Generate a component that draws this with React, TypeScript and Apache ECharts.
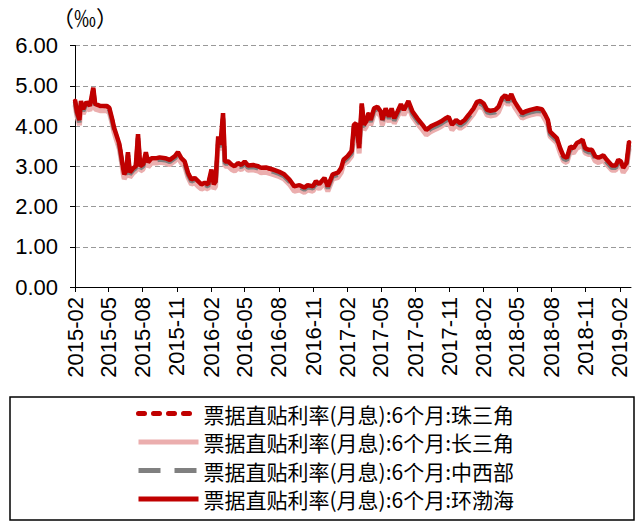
import React, { useEffect, useRef } from 'react';
import * as echarts from 'echarts';

// Observation dates shared by all four regional series
const dates = [
  '2015-02-01', '2015-02-06', '2015-02-13', '2015-02-17', '2015-02-23', '2015-03-04', '2015-03-13', '2015-03-22', '2015-03-27', '2015-04-09',
  '2015-04-27', '2015-05-04', '2015-05-11', '2015-05-17', '2015-05-24', '2015-05-31', '2015-06-06', '2015-06-10', '2015-06-13', '2015-06-19',
  '2015-06-23', '2015-06-28', '2015-07-07', '2015-07-14', '2015-07-20', '2015-07-26', '2015-08-03', '2015-08-10', '2015-08-16', '2015-08-25',
  '2015-09-08', '2015-09-16', '2015-10-01', '2015-10-13', '2015-10-27', '2015-11-04', '2015-11-13', '2015-11-22', '2015-12-01', '2015-12-10',
  '2015-12-19', '2015-12-28', '2016-01-06', '2016-01-15', '2016-01-24', '2016-02-02', '2016-02-08', '2016-02-13', '2016-02-20', '2016-02-26',
  '2016-03-04', '2016-03-09', '2016-03-18', '2016-03-27', '2016-04-04', '2016-04-13', '2016-04-22', '2016-05-01', '2016-05-10', '2016-05-24',
  '2016-06-06', '2016-06-14', '2016-06-27', '2016-07-15', '2016-08-02', '2016-08-15', '2016-08-29', '2016-09-11', '2016-09-25', '2016-10-08',
  '2016-10-17', '2016-10-31', '2016-11-08', '2016-11-17', '2016-12-01', '2016-12-10', '2016-12-23', '2017-01-06', '2017-01-15', '2017-01-21',
  '2017-02-01', '2017-02-12', '2017-02-18', '2017-02-24', '2017-03-04', '2017-03-11', '2017-03-17', '2017-03-23', '2017-03-29', '2017-04-04',
  '2017-04-13', '2017-04-22', '2017-05-01', '2017-05-05', '2017-05-14', '2017-05-23', '2017-05-30', '2017-06-06', '2017-06-15', '2017-06-24',
  '2017-07-02', '2017-07-14', '2017-07-25', '2017-08-07', '2017-08-21', '2017-08-31', '2017-09-12', '2017-09-21', '2017-09-30', '2017-10-09',
  '2017-10-20', '2017-10-30', '2017-11-08', '2017-11-19', '2017-11-30', '2017-12-12', '2017-12-23', '2018-01-05', '2018-01-14', '2018-01-23',
  '2018-02-01', '2018-02-10', '2018-02-19', '2018-03-04', '2018-03-13', '2018-03-22', '2018-03-31', '2018-04-07', '2018-04-16', '2018-04-25',
  '2018-05-06', '2018-05-15', '2018-05-24', '2018-06-06', '2018-06-24', '2018-07-07', '2018-07-16', '2018-07-23', '2018-07-29', '2018-08-07',
  '2018-08-16', '2018-08-25', '2018-09-03', '2018-09-12', '2018-09-21', '2018-09-30', '2018-10-09', '2018-10-18', '2018-10-24', '2018-10-31',
  '2018-11-09', '2018-11-18', '2018-11-27', '2018-12-06', '2018-12-19', '2018-12-28', '2019-01-11', '2019-01-21', '2019-01-28', '2019-02-04',
  '2019-02-10', '2019-02-19', '2019-02-26',
];

// 珠三角
const zhuSanJiao = [
  4.63, 4.34, 4.13, 4.60, 4.40, 4.58, 4.48, 4.92, 4.53, 4.48,
  4.48, 4.43, 4.18, 3.93, 3.73, 3.53, 3.18, 2.93, 2.78, 2.88,
  3.32, 2.83, 2.93, 2.98, 3.76, 2.98, 3.03, 3.32, 3.08, 3.18,
  3.18, 3.20, 3.18, 3.14, 3.23, 3.32, 3.18, 3.10, 2.82, 2.65,
  2.69, 2.61, 2.53, 2.57, 2.53, 2.89, 2.53, 2.60, 3.70, 3.50,
  4.27, 3.10, 3.10, 3.02, 2.98, 3.06, 3.01, 3.10, 3.00, 3.01,
  2.98, 2.94, 2.95, 2.90, 2.84, 2.78, 2.65, 2.48, 2.51, 2.45,
  2.51, 2.48, 2.61, 2.54, 2.69, 2.48, 2.78, 2.82, 2.94, 3.14,
  3.23, 3.36, 4.00, 4.05, 3.43, 4.53, 4.01, 4.09, 4.30, 4.13,
  4.42, 4.46, 4.34, 4.13, 4.42, 4.21, 4.42, 4.17, 4.34, 4.52,
  4.38, 4.60, 4.34, 4.17, 4.01, 3.88, 3.97, 4.01, 4.05, 4.09,
  4.16, 4.21, 4.01, 4.13, 4.05, 4.13, 4.26, 4.42, 4.58, 4.60,
  4.54, 4.38, 4.36, 4.38, 4.46, 4.67, 4.75, 4.63, 4.77, 4.58,
  4.42, 4.30, 4.34, 4.38, 4.42, 4.40, 4.26, 4.13, 3.84, 3.76,
  3.68, 3.43, 3.23, 3.19, 3.47, 3.43, 3.56, 3.60, 3.64, 3.43,
  3.39, 3.39, 3.23, 3.19, 3.25, 3.14, 3.00, 3.00, 3.14, 3.10,
  2.94, 3.06, 3.60,
];

// 长三角
const changSanJiao = [
  4.52, 4.25, 4.02, 4.50, 4.30, 4.48, 4.38, 4.80, 4.42, 4.38,
  4.38, 4.33, 4.08, 3.83, 3.62, 3.42, 3.08, 2.82, 2.68, 2.78,
  3.20, 2.72, 2.83, 2.88, 3.62, 2.88, 2.93, 3.22, 2.98, 3.08,
  3.08, 3.10, 3.08, 3.04, 3.13, 3.22, 3.08, 3.00, 2.72, 2.55,
  2.59, 2.50, 2.43, 2.47, 2.43, 2.78, 2.43, 2.50, 3.55, 3.40,
  4.10, 3.00, 3.00, 2.92, 2.88, 2.96, 2.91, 3.00, 2.90, 2.91,
  2.88, 2.84, 2.85, 2.80, 2.74, 2.68, 2.55, 2.38, 2.41, 2.35,
  2.41, 2.38, 2.50, 2.44, 2.58, 2.38, 2.68, 2.72, 2.84, 3.04,
  3.12, 3.25, 3.88, 3.93, 3.32, 4.40, 3.90, 3.98, 4.18, 4.02,
  4.30, 4.34, 4.23, 4.02, 4.30, 4.10, 4.30, 4.06, 4.23, 4.40,
  4.27, 4.48, 4.23, 4.06, 3.90, 3.78, 3.86, 3.90, 3.94, 3.98,
  4.05, 4.10, 3.90, 4.02, 3.94, 4.02, 4.15, 4.30, 4.46, 4.48,
  4.43, 4.27, 4.25, 4.27, 4.35, 4.55, 4.63, 4.52, 4.65, 4.47,
  4.31, 4.19, 4.23, 4.27, 4.31, 4.29, 4.15, 4.02, 3.74, 3.66,
  3.58, 3.33, 3.13, 3.09, 3.36, 3.33, 3.45, 3.49, 3.53, 3.33,
  3.29, 3.29, 3.13, 3.09, 3.15, 3.04, 2.90, 2.90, 3.04, 3.00,
  2.84, 2.96, 3.45,
];

// 中西部
const zhongXiBu = [
  4.60, 4.31, 4.09, 4.56, 4.37, 4.55, 4.45, 4.88, 4.50, 4.45,
  4.45, 4.40, 4.15, 3.90, 3.70, 3.50, 3.15, 2.90, 2.75, 2.85,
  3.28, 2.80, 2.90, 2.95, 3.70, 2.95, 3.00, 3.28, 3.05, 3.15,
  3.15, 3.17, 3.15, 3.11, 3.20, 3.29, 3.15, 3.07, 2.79, 2.62,
  2.66, 2.57, 2.50, 2.54, 2.50, 2.85, 2.50, 2.57, 3.65, 3.47,
  4.20, 3.07, 3.07, 2.99, 2.95, 3.03, 2.98, 3.07, 2.97, 2.98,
  2.95, 2.91, 2.92, 2.87, 2.81, 2.75, 2.62, 2.45, 2.48, 2.42,
  2.48, 2.45, 2.57, 2.51, 2.65, 2.45, 2.75, 2.79, 2.91, 3.11,
  3.20, 3.32, 3.96, 4.01, 3.40, 4.48, 3.97, 4.05, 4.26, 4.10,
  4.38, 4.42, 4.30, 4.10, 4.38, 4.18, 4.38, 4.13, 4.30, 4.48,
  4.34, 4.56, 4.30, 4.13, 3.97, 3.84, 3.93, 3.97, 4.01, 4.05,
  4.12, 4.17, 3.97, 4.09, 4.01, 4.09, 4.22, 4.38, 4.54, 4.56,
  4.50, 4.34, 4.32, 4.34, 4.42, 4.63, 4.71, 4.59, 4.73, 4.54,
  4.38, 4.26, 4.30, 4.34, 4.38, 4.36, 4.22, 4.09, 3.80, 3.72,
  3.64, 3.39, 3.19, 3.15, 3.43, 3.39, 3.52, 3.56, 3.60, 3.39,
  3.35, 3.35, 3.19, 3.15, 3.21, 3.10, 2.96, 2.96, 3.10, 3.06,
  2.90, 3.02, 3.52,
];

// 环渤海
const huanBoHai = [
  4.65, 4.36, 4.15, 4.62, 4.42, 4.60, 4.50, 4.95, 4.55, 4.50,
  4.50, 4.45, 4.20, 3.95, 3.75, 3.55, 3.20, 2.95, 2.80, 2.90,
  3.35, 2.85, 2.95, 3.00, 3.80, 3.00, 3.05, 3.35, 3.10, 3.20,
  3.20, 3.22, 3.20, 3.16, 3.25, 3.35, 3.20, 3.12, 2.84, 2.67,
  2.71, 2.63, 2.55, 2.59, 2.55, 2.92, 2.55, 2.62, 3.74, 3.53,
  4.32, 3.12, 3.12, 3.04, 3.00, 3.08, 3.03, 3.12, 3.02, 3.03,
  3.00, 2.96, 2.97, 2.92, 2.86, 2.80, 2.67, 2.50, 2.53, 2.47,
  2.53, 2.50, 2.63, 2.56, 2.71, 2.50, 2.80, 2.84, 2.96, 3.16,
  3.25, 3.38, 4.03, 4.07, 3.45, 4.56, 4.03, 4.11, 4.32, 4.15,
  4.44, 4.48, 4.36, 4.15, 4.44, 4.23, 4.44, 4.19, 4.36, 4.54,
  4.40, 4.62, 4.36, 4.19, 4.03, 3.90, 3.99, 4.03, 4.07, 4.11,
  4.18, 4.23, 4.03, 4.15, 4.07, 4.15, 4.28, 4.44, 4.60, 4.62,
  4.56, 4.40, 4.38, 4.40, 4.48, 4.69, 4.77, 4.65, 4.79, 4.60,
  4.44, 4.32, 4.36, 4.40, 4.44, 4.42, 4.28, 4.15, 3.86, 3.78,
  3.70, 3.45, 3.25, 3.21, 3.49, 3.45, 3.58, 3.62, 3.66, 3.45,
  3.41, 3.41, 3.25, 3.21, 3.27, 3.16, 3.02, 3.02, 3.16, 3.12,
  2.96, 3.08, 3.62,
];

const seriesNames = [
  '票据直贴利率(月息):6个月:珠三角',
  '票据直贴利率(月息):6个月:长三角',
  '票据直贴利率(月息):6个月:中西部',
  '票据直贴利率(月息):6个月:环渤海',
];

const tickLabels = [
  '2015-02', '2015-05', '2015-08', '2015-11', '2016-02', '2016-05', '2016-08', '2016-11', '2017-02',
  '2017-05', '2017-08', '2017-11', '2018-02', '2018-05', '2018-08', '2018-11', '2019-02',
];

const axisStart = '2015-02-01';
const axisEnd = '2019-03-03';
const unitLabel = '（‰）';

const toTime = (s: string) => {
  const [y, m, d] = s.split('-').map(Number);
  return new Date(y, m - 1, d || 1).getTime();
};

const pad2 = (n: number) => (n < 10 ? '0' + n : String(n));

const NUM_FONT = "'Liberation Sans Narrow', 'Arial Narrow', 'Liberation Sans', Arial, sans-serif";
const CJK_FONT = "'Noto Sans CJK SC', sans-serif";

export default function App() {
  const ref = useRef<HTMLDivElement>(null);

  useEffect(() => {
    if (!ref.current) return;
    const chart = echarts.init(ref.current, undefined, { renderer: 'svg' });

    const pairs = (vals: number[]) => dates.map((d, i) => [toTime(d), vals[i]]);
    const tickTimes = tickLabels.map(toTime);

    const option: any = {
      animation: false,
      backgroundColor: '#ffffff',
      grid: { left: 75, right: 13, top: 45.5, bottom: 236, containLabel: false },
      xAxis: {
        // timestamps on a plain numeric axis, labelled at quarter starts
        type: 'value',
        min: toTime(axisStart),
        max: toTime(axisEnd),
        axisLine: { show: true, lineStyle: { color: '#000', width: 1 } },
        axisTick: { show: true, length: 5, lineStyle: { color: '#000' }, customValues: tickTimes },
        splitLine: { show: false },
        axisLabel: {
          customValues: tickTimes,
          rotate: 90,
          margin: 10,
          color: '#000',
          fontSize: 22,
          fontFamily: NUM_FONT,
          formatter: (v: number) => {
            const d = new Date(v);
            return d.getFullYear() + '-' + pad2(d.getMonth() + 1);
          },
        },
      },
      yAxis: {
        type: 'value',
        min: 0,
        max: 6,
        interval: 1,
        axisLine: { show: true, lineStyle: { color: '#000', width: 1 } },
        axisTick: { show: true, length: 5, lineStyle: { color: '#000' } },
        splitLine: { show: true, lineStyle: { color: '#999', type: [5, 3], width: 1 } },
        axisLabel: {
          margin: 17,
          color: '#000',
          fontSize: 22,
          fontFamily: NUM_FONT,
          formatter: (v: number) => v.toFixed(2),
        },
      },
      legend: {
        orient: 'vertical',
        left: 131,
        top: 397.5,
        itemWidth: 60,
        itemHeight: 14,
        itemGap: 6.5,
        data: seriesNames,
        itemStyle: { opacity: 0, borderWidth: 0 },
        lineStyle: { width: 5 },
        textStyle: { fontSize: 21, lineHeight: 22, color: '#000', fontFamily: CJK_FONT },
      },
      graphic: [
        {
          type: 'text',
          left: 52,
          top: 5,
          style: { text: unitLabel, fill: '#000', font: `22px ${CJK_FONT}` },
        },
        {
          type: 'rect',
          shape: { x: 10, y: 397, width: 624, height: 123 },
          style: { fill: 'none', stroke: '#000', lineWidth: 1.5 },
          z: 10,
        },
      ],
      series: [
        {
          name: seriesNames[0],
          type: 'line',
          symbol: 'none',
          data: pairs(zhuSanJiao),
          lineStyle: { color: '#C00000', width: 4, type: [6, 9], cap: 'round' },
          itemStyle: { color: '#C00000' },
        },
        {
          name: seriesNames[1],
          type: 'line',
          symbol: 'none',
          data: pairs(changSanJiao),
          lineStyle: { color: '#EBAEAE', width: 5, type: 'solid' },
          itemStyle: { color: '#EBAEAE' },
        },
        {
          name: seriesNames[2],
          type: 'line',
          symbol: 'none',
          data: pairs(zhongXiBu),
          lineStyle: { color: '#808080', width: 4.5, type: [22, 14] },
          itemStyle: { color: '#808080' },
        },
        {
          name: seriesNames[3],
          type: 'line',
          symbol: 'none',
          data: pairs(huanBoHai),
          lineStyle: { color: '#C00000', width: 4.5, type: 'solid' },
          itemStyle: { color: '#C00000' },
        },
      ],
    };

    chart.setOption(option);
    return () => chart.dispose();
  }, []);

  return (
    <div
      ref={ref}
      style={{ position: 'fixed', left: 0, top: 0, width: 644, height: 523, background: '#fff' }}
    />
  );
}
